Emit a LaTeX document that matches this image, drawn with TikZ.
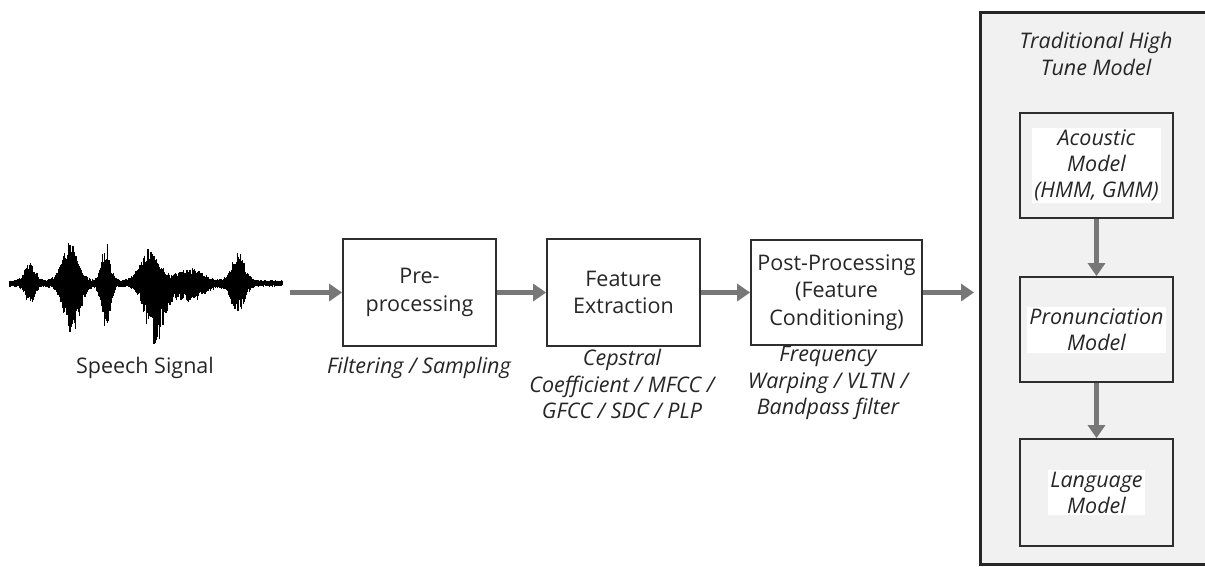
\documentclass[tikz,border=0pt]{standalone}
\usepackage{fontspec}
\setmainfont{Open Sans}
\usetikzlibrary{arrows.meta,shadows}
\definecolor{txt}{HTML}{262626}
\definecolor{boxc}{HTML}{2E2E2E}
\definecolor{arr}{HTML}{777777}
\definecolor{panel}{HTML}{F1F1F1}
\begin{document}
\begin{tikzpicture}[x=1pt,y=-1pt,
  declare function={g(\x,\c,\w)=exp(-min(((\x-\c)/\w)*((\x-\c)/\w),30));},
  box/.style={draw=boxc, line width=1.8pt, inner sep=0pt, text=txt, align=center,
              font=\fontsize{21.5}{27.5}\selectfont},
  ibox/.style={draw=boxc, line width=1.8pt, fill=panel, inner sep=0pt,
               minimum width=153pt, minimum height=105pt},
  itext/.style={fill=white, text=txt, align=center, inner sep=2pt,
                font=\fontsize{21.5}{26}\selectfont\itshape},
  lbl/.style={text=txt, align=center, inner sep=0pt,
              font=\fontsize{21.5}{26.5}\selectfont\itshape},
  flow/.style={draw=arr, line width=4.2pt, -{Triangle[length=13pt,width=17pt]}}]
\useasboundingbox (0,0) rectangle (1205,566);
\fill[white] (0,0) rectangle (1205,566);

% speech waveform
\pgfmathsetseed{11}
\foreach \x in {10,10.6,...,283}{
  \pgfmathsetmacro\up{3+20*g(\x,30,7)+38*g(\x,70,11)+38*g(\x,106,6)+32*g(\x,150,13)+12*g(\x,190,18)+28*g(\x,238,9)}
  \pgfmathsetmacro\dn{4+18*g(\x,30,7)+48*g(\x,72,11)+46*g(\x,106,6)+58*g(\x,155,13)+16*g(\x,190,18)+27*g(\x,238,9)}
  \pgfmathsetmacro\ru{\up*(0.5+0.5*rnd)}
  \pgfmathsetmacro\rd{\dn*(0.5+0.5*rnd)}
  \draw[line width=1.3pt, black] (\x,283-\ru) -- (\x,283+\rd);
}
\node[text=txt, font=\fontsize{21.5}{27}\selectfont, inner sep=0pt] (sig) at (145,368) {Speech Signal};

% processing chain
\node[box, minimum width=153pt, minimum height=107pt] (pre) at (419.5,292.5) {Pre-\\processing};
\node[box, minimum width=153pt, minimum height=107pt] (fe) at (623.5,292.5) {Feature\\Extraction};
\node[box, minimum width=171pt, minimum height=105pt] (pp) at (836.5,292.5) {Post-Processing\\(Feature\\Conditioning)};

\coordinate (src) at (290,292.5);
\coordinate (dst) at (974,292.5);
\draw[flow] (src) -- (pre.west);
\draw[flow] (pre.east) -- (fe.west);
\draw[flow] (fe.east) -- (pp.west);
\draw[flow] (pp.east) -- (dst);

\node[lbl] (l1) at (419,368) {Filtering / Sampling};
\node[lbl, anchor=north] (l2) at (622,349) {Cepstral\\Coefficient / MFCC /\\GFCC / SDC / PLP};
\node[lbl, anchor=north] (l3) at (828,346) {Frequency\\Warping / VLTN /\\Bandpass filter};

% traditional model panel
\draw[draw=black!85, line width=3pt, fill=panel,
      drop shadow={opacity=0.25, shadow xshift=2pt, shadow yshift=-2pt}]
  (980,12) rectangle (1220,564);
\node[lbl] (title) at (1096,54) {Traditional High\\Tune Model};

\node[ibox] (am) at (1096.5,165.5) {};
\node[itext] at (am) {Acoustic\\Model\\(HMM, GMM)};
\node[ibox] (pm) at (1096.5,329.5) {};
\node[itext] at (pm) {Pronunciation\\Model};
\node[ibox, minimum height=107pt] (lm) at (1096.5,492.5) {};
\node[itext] at (lm) {Language\\Model};

\draw[flow] (am.south) -- (pm.north);
\draw[flow] (pm.south) -- (lm.north);
\end{tikzpicture}
\end{document}
